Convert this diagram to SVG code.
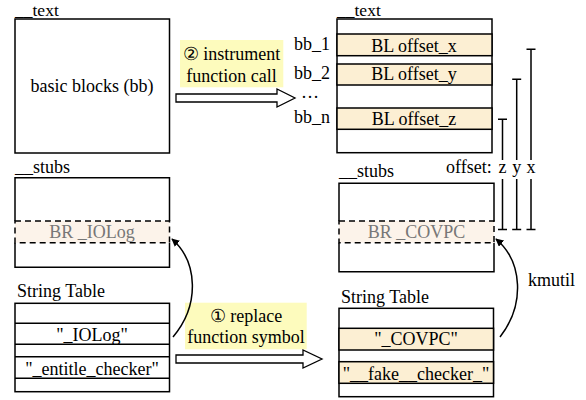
<svg xmlns="http://www.w3.org/2000/svg" width="586" height="400" viewBox="0 0 586 400">
<defs>
<style>
text{font-family:'Liberation Serif','DejaVu Serif','Times New Roman',serif;font-size:18px;fill:#000}
.sec{font-size:17.5px}
.box{fill:#fff;stroke:#000;stroke-width:1.5}
.hl{fill:#fcefd3;stroke:#000;stroke-width:1.5}
.band{fill:#fcf3ea;stroke:#000;stroke-width:1.5;stroke-dasharray:6 4}
.solid{fill:none;stroke:#000;stroke-width:1.5}
.gray{fill:#777}
.mid{text-anchor:middle}
.end{text-anchor:end}
.lbl{fill:#fdfbbd}
.blk{fill:#fff;stroke:#000;stroke-width:1.3}
.bar{fill:none;stroke:#000;stroke-width:1.5}
.cur{fill:none;stroke:#000;stroke-width:1.5}
</style>
<marker id="ah" viewBox="0 0 10 10" refX="9" refY="5" markerWidth="8" markerHeight="8" markerUnits="userSpaceOnUse" orient="auto">
<path d="M0,0 L10,5 L0,10 z" fill="#000"/>
</marker>
</defs>
<g font-family="Liberation Serif, serif" font-size="18">
<g id="text-left">
<text class="sec" x="15" y="15.8">__text</text>
<rect class="box" x="15" y="19" width="154.5" height="134"/>
<text class="mid" x="92" y="92">basic blocks (bb)</text>
</g>

<g id="stubs-left">
<text x="15" y="173">__stubs</text>
<path class="solid" d="M15,221 V177.7 H169.5 V221 M15,242.7 V267.3 H169.5 V242.7"/>
<rect class="band" x="15" y="221" width="154.5" height="21.7"/>
<text class="mid gray" x="92" y="238">BR _IOLog</text>
</g>

<g id="strtab-left">
<text x="17" y="297">String Table</text>
<rect class="box" x="15" y="303.3" width="154.5" height="88.4"/>
<path class="solid" d="M15,323.3 H169.5 M15,344.3 H169.5 M15,356.7 H169.5 M15,378.3 H169.5"/>
<text class="mid" x="92" y="341">"_IOLog"</text>
<text class="mid" x="92" y="375">"_entitle_checker"</text>
</g>

<g id="text-right">
<text class="sec" x="337" y="15.8">__text</text>
<rect class="box" x="337" y="19" width="155" height="133.7"/>
<rect class="hl" x="337" y="34" width="155" height="21.7"/>
<rect class="hl" x="337" y="64" width="155" height="21"/>
<rect class="hl" x="337" y="108" width="155" height="21.3"/>
<text class="mid" x="414" y="51.5">BL offset_x</text>
<text class="mid" x="414" y="80">BL offset_y</text>
<text class="mid" x="414" y="124.5">BL offset_z</text>
<text class="end" x="330" y="50">bb_1</text>
<text class="end" x="330" y="79">bb_2</text>
<text x="301" y="98">…</text>
<text class="end" x="330" y="123">bb_n</text>
</g>

<g id="stubs-right">
<text x="339" y="177">__stubs</text>
<path class="solid" d="M339,221 V183.3 H494 V221 M339,242.7 V271.7 H494 V242.7"/>
<rect class="band" x="339" y="221" width="155" height="21.7"/>
<text class="mid gray" x="416.5" y="238">BR _COVPC</text>
</g>

<g id="strtab-right">
<text x="341" y="303">String Table</text>
<rect class="box" x="339" y="308.3" width="154.5" height="88.4"/>
<rect class="hl" x="339" y="328.3" width="154.5" height="21.7"/>
<rect class="hl" x="339" y="361.7" width="154.5" height="21.6"/>
<text class="mid" x="416" y="345">"_COVPC"</text>
<text class="mid" x="416" y="379.5">"__fake__checker_"</text>
</g>

<g id="offsets">
<path class="bar" d="M502.5,119.3 V160 M502.5,179 V229.5 M498,119.3 H507 M498,229.5 H507"/>
<path class="bar" d="M516.7,79.3 V160 M516.7,179 V229.5 M512.2,79.3 H521.2 M512.2,229.5 H521.2"/>
<path class="bar" d="M531,49.3 V160 M531,179 V229.5 M526.5,49.3 H535.5 M526.5,229.5 H535.5"/>
<text y="173"><tspan x="446">offset:</tspan><tspan class="mid" x="502.5">z</tspan><tspan class="mid" x="516.7">y</tspan><tspan class="mid" x="531">x</tspan></text>
</g>

<g id="label-instrument">
<rect class="lbl" x="180" y="40" width="103.3" height="47.3"/>
<text class="mid" x="231.5" y="60">② instrument</text>
<text class="mid" x="231.5" y="81.5">function call</text>
</g>

<g id="label-replace">
<rect class="lbl" x="185" y="302.7" width="121.7" height="46.6"/>
<text class="mid" x="246" y="321.5">① replace</text>
<text class="mid" x="246" y="343">function symbol</text>
</g>

<g id="kmutil-label">
<text x="528" y="286">kmutil</text>
</g>

<g id="connectors">
<polygon class="blk" points="176,94 277,94 277,89 295,98 277,107 277,102 176,102"/>
<polygon class="blk" points="176,355 303,355 303,350 322,359 303,368 303,363 176,363"/>
<path class="cur" d="M173,337 C200,305 198,262 172,239" marker-end="url(#ah)"/>
<path class="cur" d="M500,337 C525,305 523,262 496,239" marker-end="url(#ah)"/>
</g>
</g>
</svg>
